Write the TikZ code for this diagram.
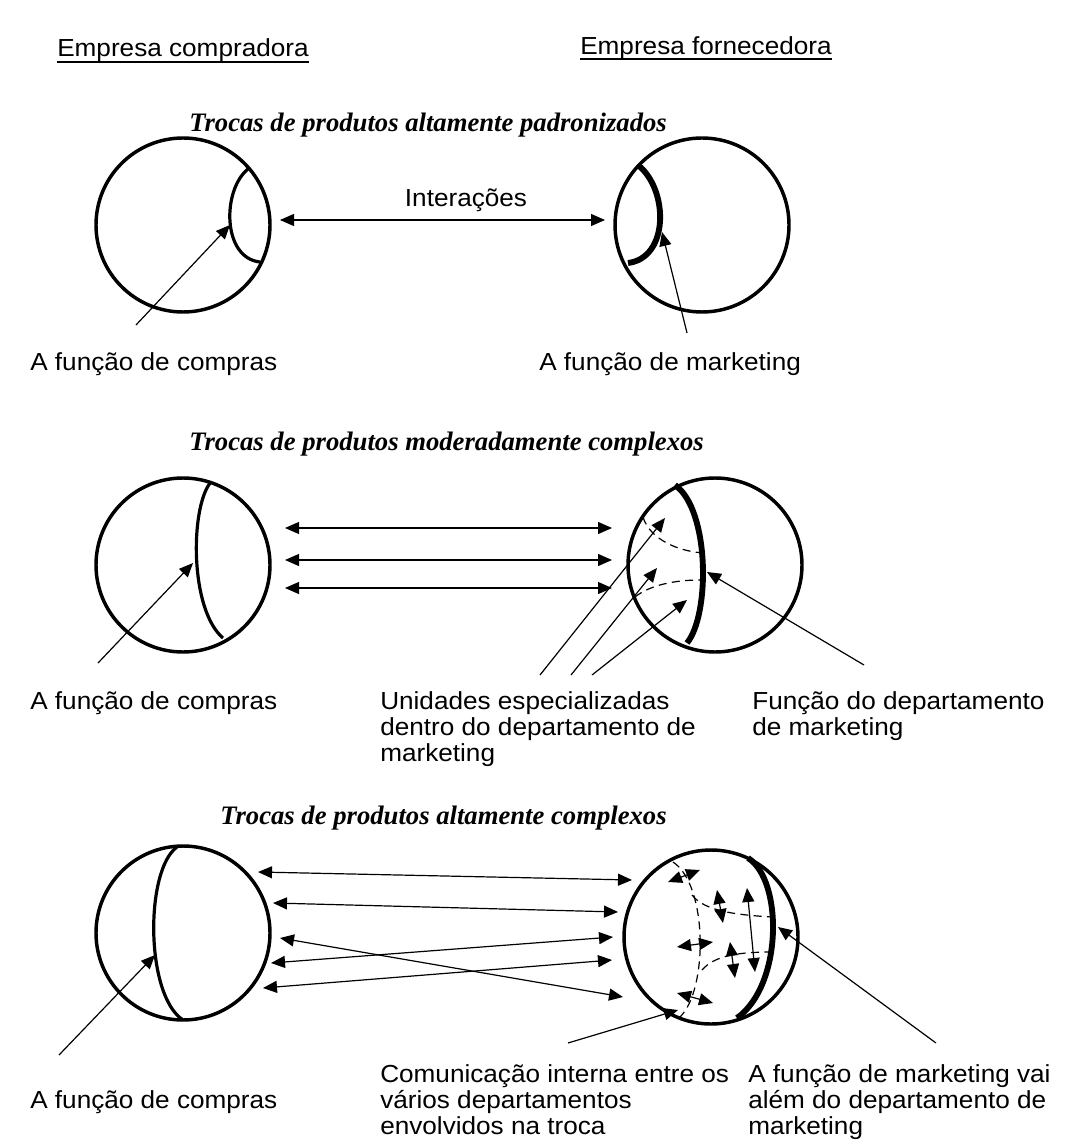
\documentclass[tikz,border=0pt]{standalone}
\usepackage{fontspec}
\setmainfont{Liberation Sans}[FakeStretch=1.06]
\newfontfamily\titlefont{Liberation Serif}
\usetikzlibrary{arrows.meta}

\begin{document}
\begin{tikzpicture}[x=0.75pt,y=-0.75pt,
  firm/.style={circle,draw,line width=2.6pt,minimum size=130.5pt,inner sep=0pt,outer sep=0pt},
  inner/.style={line width=2.4pt},
  heavy/.style={line width=4.4pt},
  link/.style={line width=0.9pt,{Triangle[length=10.5pt,width=9pt]}-{Triangle[length=10.5pt,width=9pt]}},
  pointer/.style={line width=0.9pt,-{Triangle[length=10.5pt,width=9pt]}},
  divide/.style={line width=0.9pt,dash pattern=on 6pt off 4pt},
  lbl/.style={inner sep=0pt,anchor=base west,font=\fontsize{18.5}{20}\selectfont},
  ttl/.style={inner sep=0pt,anchor=base west,font=\titlefont\bfseries\itshape\fontsize{20}{23}\selectfont},
]
\useasboundingbox (0,0) rectangle (1087,1144);

% column headings
\node[lbl] (hbuy) at (57,57) {Empresa compradora};
\node[lbl] (hsup) at (580,55) {Empresa fornecedora};
\draw[line width=1.6pt] ([yshift=-3.8pt]hbuy.base west) -- ([yshift=-3.8pt]hbuy.base east);
\draw[line width=1.6pt] ([yshift=-3.3pt]hsup.base west) -- ([yshift=-3.3pt]hsup.base east);

% ---------- standardised products ----------
\node[ttl] (t1) at (189,132) {Trocas de produtos altamente padronizados};
\node[firm] (b1) at (183,225) {};
\node[firm] (s1) at (702,225) {};
\draw[inner] (248,169) .. controls (222,190) and (222,258) .. (260,262);
\draw[heavy] (638,165) .. controls (669,190) and (669,258) .. (628,263);

\coordinate (i1l) at (280,220);
\coordinate (i1r) at (605,220);
\draw[link] (i1l) -- (i1r);
\node[lbl,anchor=base] (int) at (466,207) {Interações};

\coordinate (p1a) at (136,325); \coordinate (p1b) at (230,225);
\coordinate (p1c) at (687,333); \coordinate (p1d) at (662,232);
\draw[pointer] (p1a) -- (p1b);
\draw[pointer] (p1c) -- (p1d);
\node[lbl] (l1a) at (30,370) {A função de compras};
\node[lbl] (l1b) at (539,370) {A função de marketing};

% ---------- moderately complex products ----------
\node[ttl] (t2) at (189,450) {Trocas de produtos moderadamente complexos};
\node[firm] (b2) at (183,565) {};
\node[firm] (s2) at (715,565) {};
\draw[inner] (210,483) .. controls (190,510) and (190,610) .. (223,638);
\draw[heavy] (675,485) .. controls (710,510) and (710,615) .. (687,643);
\draw[divide] (643,517) .. controls (650,540) and (680,552) .. (705,553);
\draw[divide] (635,597) .. controls (650,585) and (675,580) .. (700,580);

\foreach \y [count=\k] in {528,560,588} {
  \coordinate (m\k l) at (285,\y);
  \coordinate (m\k r) at (612,\y);
  \draw[link] (m\k l) -- (m\k r);
}

\coordinate (p2a) at (98,663);  \coordinate (p2b) at (193,563);
\coordinate (u1a) at (540,675); \coordinate (u1b) at (665,518);
\coordinate (u2a) at (571,675); \coordinate (u2b) at (657,568);
\coordinate (u3a) at (592,675); \coordinate (u3b) at (687,600);
\coordinate (f2a) at (864,665); \coordinate (f2b) at (707,572);
\draw[pointer] (p2a) -- (p2b);
\draw[pointer] (u1a) -- (u1b);
\draw[pointer] (u2a) -- (u2b);
\draw[pointer] (u3a) -- (u3b);
\draw[pointer] (f2a) -- (f2b);

\node[lbl] (l2a) at (30,709) {A função de compras};
\node[lbl] (l2b1) at (380,709) {Unidades especializadas};
\node[lbl] (l2b2) at (380,735) {dentro do departamento de};
\node[lbl] (l2b3) at (380,761) {marketing};
\node[lbl] (l2c1) at (752,709) {Função do departamento};
\node[lbl] (l2c2) at (752,735) {de marketing};

% ---------- highly complex products ----------
\node[ttl] (t3) at (220,824) {Trocas de produtos altamente complexos};
\node[firm] (b3) at (183,933) {};
\node[firm] (s3) at (711,937) {};
\draw[inner] (177,847) .. controls (145,870) and (145,995) .. (183,1020);
\draw[heavy] (748,858) .. controls (783,880) and (783,985) .. (737,1018);
\draw[divide] (673,862) .. controls (708,885) and (708,990) .. (680,1017);
\draw[divide] (692,895) .. controls (705,912) and (740,915) .. (772,917);
\draw[divide] (702,970) .. controls (715,955) and (740,952) .. (773,952);

\coordinate (x1l) at (258,872); \coordinate (x1r) at (632,880);
\coordinate (x2l) at (273,903); \coordinate (x2r) at (618,912);
\coordinate (x3l) at (280,938); \coordinate (x3r) at (623,997);
\coordinate (x4l) at (271,963); \coordinate (x4r) at (613,937);
\coordinate (x5l) at (263,988); \coordinate (x5r) at (612,960);
\foreach \k in {1,...,5} { \draw[link] (x\k l) -- (x\k r); }

% communication between departments inside the supplier
\coordinate (ca1) at (668,882); \coordinate (ca2) at (700,870);
\coordinate (cb1) at (717,890); \coordinate (cb2) at (723,923);
\coordinate (cc1) at (747,888); \coordinate (cc2) at (755,972);
\coordinate (cd1) at (677,947); \coordinate (cd2) at (713,942);
\coordinate (ce1) at (730,942); \coordinate (ce2) at (735,978);
\coordinate (cf1) at (677,993); \coordinate (cf2) at (713,1003);
\foreach \c in {ca,cb,cc,cd,ce,cf} { \draw[link] (\c1) -- (\c2); }

\coordinate (p3a) at (59,1055);  \coordinate (p3b) at (155,955);
\coordinate (q3a) at (568,1043); \coordinate (q3b) at (678,1010);
\coordinate (r3a) at (936,1043); \coordinate (r3b) at (778,927);
\draw[pointer] (p3a) -- (p3b);
\draw[pointer] (q3a) -- (q3b);
\draw[pointer] (r3a) -- (r3b);

\node[lbl] (l3a) at (30,1108) {A função de compras};
\node[lbl] (l3b1) at (380,1082) {Comunicação interna entre os};
\node[lbl] (l3b2) at (380,1108) {vários departamentos};
\node[lbl] (l3b3) at (380,1134) {envolvidos na troca};
\node[lbl] (l3c1) at (748,1082) {A função de marketing vai};
\node[lbl] (l3c2) at (748,1108) {além do departamento de};
\node[lbl] (l3c3) at (748,1134) {marketing};
\end{tikzpicture}
\end{document}
